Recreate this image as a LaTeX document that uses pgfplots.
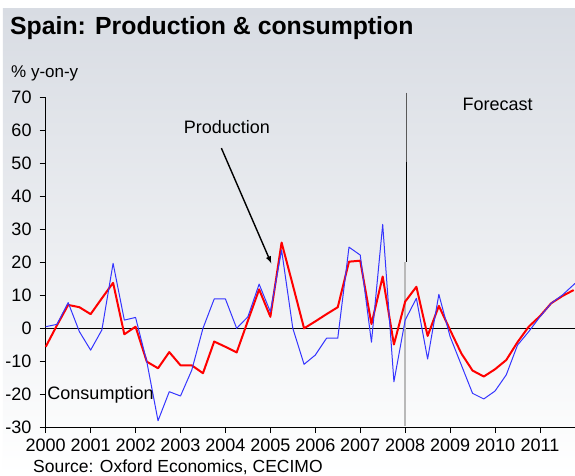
\documentclass[border=0pt]{standalone}
\usepackage{pgfplots}
\pgfplotsset{compat=1.18}
\usepackage{fontspec}
\setmainfont{Liberation Sans}
\definecolor{bgtop}{HTML}{D8DCE3}
\definecolor{bgbot}{HTML}{FFFFFF}
\definecolor{consblue}{HTML}{3535FF}
\begin{document}
\fontsize{18pt}{20pt}\selectfont
\begin{tikzpicture}[x=1pt,y=1pt]
\useasboundingbox (-45.7,-48) rectangle (529.3,427);
\fill[white] (-45.7,-48) rectangle (529.3,427);
\shade[top color=bgtop, bottom color=bgbot] (-42.7,-48) rectangle (529.3,418);
\node[anchor=base west, inner sep=0pt, font=\bfseries\fontsize{24.8pt}{27pt}\selectfont] at (-35.7,392) {Spain: Production \& consumption};
\node[anchor=base west, inner sep=0pt, font=\fontsize{17pt}{19pt}\selectfont] at (-34.7,350) {\% y-on-y};
\begin{axis}[
  at={(0,0)}, anchor=south west,
  scale only axis, width=529.3pt, height=330pt,
  xmin=2000, xmax=2011.78, ymin=-30, ymax=70,
  axis x line*=bottom, axis y line*=left,
  axis line style={-, black, line width=0.8pt},
  xtick={2000,2001,...,2011}, ytick={-30,-20,...,70},
  tick align=outside, major tick length=6pt,
  tick style={black, line width=0.8pt},
  /pgf/number format/assume math mode=true,
  /pgf/number format/1000 sep={},
  ticklabel style={font=\fontsize{18pt}{20pt}\selectfont},
  yticklabel style={xshift=-2pt},
  clip=false,
]
\draw[black, line width=0.8pt] (axis cs:2000,0) -- (axis cs:2011.78,0);
\draw[gray!55, line width=1.6pt] (axis cs:2007.99,20) -- (axis cs:2007.99,-29.6);
\draw[black!65, line width=0.9pt] (axis cs:2008.02,71.3) -- (axis cs:2008.02,50.4);
\draw[black, line width=0.9pt] (axis cs:2008.02,50.4) -- (axis cs:2008.02,20);
\addplot[red, line width=2pt, line join=round] coordinates {
(2000.00,-5.7) (2000.25,0.8) (2000.50,7.0) (2000.75,6.3) (2001.00,4.2) (2001.25,9.0)
(2001.50,13.7) (2001.75,-1.9) (2002.00,0.4) (2002.25,-10.2) (2002.50,-12.2) (2002.75,-7.3)
(2003.00,-11.3) (2003.25,-11.3) (2003.50,-13.7) (2003.75,-4.1) (2004.00,-5.7) (2004.25,-7.4)
(2004.50,2.2) (2004.75,11.7) (2005.00,3.4) (2005.25,25.9) (2005.50,13.0) (2005.75,-0.1)
(2006.00,2.0) (2006.25,4.2) (2006.50,6.3) (2006.75,20.1) (2007.00,20.4) (2007.25,1.2)
(2007.50,15.6) (2007.75,-5.0) (2008.00,8.0) (2008.25,12.5) (2008.50,-2.4) (2008.75,6.7)
(2009.00,-0.6) (2009.25,-7.7) (2009.50,-12.9) (2009.75,-14.7) (2010.00,-12.5) (2010.25,-9.7)
(2010.50,-4.3) (2010.75,0.4) (2011.00,3.6) (2011.25,7.5) (2011.50,9.7) (2011.75,11.5)
};
\addplot[consblue, line width=1pt, line join=round] coordinates {
(2000.00,0.4) (2000.25,1.1) (2000.50,7.7) (2000.75,-1.1) (2001.00,-6.7) (2001.25,-0.6)
(2001.50,19.6) (2001.75,2.4) (2002.00,3.2) (2002.25,-10.2) (2002.50,-28.1) (2002.75,-19.3)
(2003.00,-20.6) (2003.25,-12.8) (2003.50,-0.1) (2003.75,8.8) (2004.00,8.8) (2004.25,-0.1)
(2004.50,3.4) (2004.75,13.3) (2005.00,4.9) (2005.25,23.6) (2005.50,-0.1) (2005.75,-11.0)
(2006.00,-8.2) (2006.25,-3.1) (2006.50,-3.1) (2006.75,24.5) (2007.00,22.1) (2007.25,-4.3)
(2007.50,31.4) (2007.75,-16.3) (2008.00,2.4) (2008.25,9.0) (2008.50,-9.4) (2008.75,10.2)
(2009.00,-2.6) (2009.25,-11.2) (2009.50,-19.8) (2009.75,-21.5) (2010.00,-19.1) (2010.25,-14.2)
(2010.50,-5.2) (2010.75,-1.1) (2011.00,3.4) (2011.25,7.5) (2011.50,10.0) (2011.78,13.5)
};
\node[font=\fontsize{18pt}{20pt}\selectfont] at (axis cs:2004.03,61) {Production};
\draw[->, >=latex, line width=1.4pt] (axis cs:2003.91,54.5) -- (axis cs:2005.02,19.6);
\node[font=\fontsize{18pt}{20pt}\selectfont] at (axis cs:2010.06,67.8) {Forecast};
\node[font=\fontsize{18pt}{20pt}\selectfont] at (axis cs:2001.22,-20.3) {Consumption};
\end{axis}
\node[anchor=base west, inner sep=0pt, font=\fontsize{17.5pt}{20pt}\selectfont] at (-12.7,-45.2) {Source: Oxford Economics, CECIMO};
\end{tikzpicture}
\end{document}
